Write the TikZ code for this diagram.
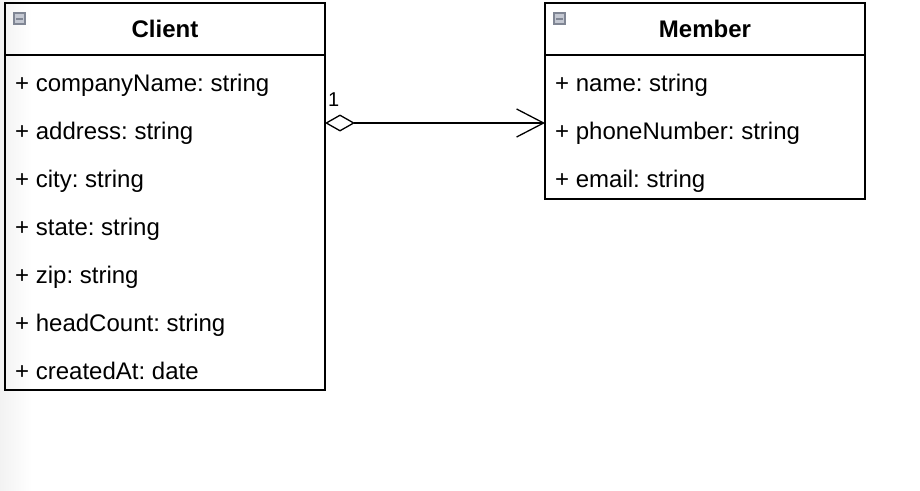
\documentclass[tikz,border=0pt]{standalone}
\usepackage{fontspec}
\setmainfont{Liberation Sans}
\usetikzlibrary{positioning,arrows.meta}
\frenchspacing

\definecolor{iconfill}{RGB}{196,200,210}
\definecolor{iconedge}{RGB}{128,134,148}

\tikzset{
  classhead/.style={draw,line width=1.5pt,outer sep=0pt,inner sep=0pt,minimum width=320pt,minimum height=52pt,font=\fontsize{24}{28}\selectfont\bfseries},
  classbody/.style={draw,line width=1.5pt,outer sep=0pt,inner sep=0pt,minimum width=320pt},
  attr/.style={anchor=base west,inner sep=0pt,font=\fontsize{24}{28}\selectfont},
  togglebox/.style={draw=iconedge,fill=iconfill,line width=1.2pt,minimum size=11pt,inner sep=0pt,outer sep=0pt,anchor=north west,
    path picture={\draw[line width=2pt] ([xshift=2pt]path picture bounding box.west) -- ([xshift=-2pt]path picture bounding box.east);}},
  assoc/.style={line width=1.3pt,arrows={Diamond[open,length=30pt,width=17pt]-Straight Barb[length=27pt,width=28pt]}},
  mult/.style={anchor=base west,inner sep=0pt,font=\fontsize{20}{23}\selectfont}
}

\begin{document}
\begin{tikzpicture}[x=1pt,y=-1pt]
\useasboundingbox (0,0) rectangle (920,490);
\shade[left color=gray!10,right color=white] (0,0) rectangle (32,490);

% Client class
\node[classhead] (client) at (165,29) {Client};
\node[classbody,minimum height=335pt,below=0pt of client] (clientbody) {};
\node[togglebox] (client-toggle) at ([xshift=9pt,yshift=-10pt]client.north west) {};
\foreach \a [count=\i] in {companyName: string,address: string,city: string,state: string,zip: string,headCount: string,createdAt: date}
  \node[attr] (client-\i) at (15,{91+48*(\i-1)}) {+ \a};

% Member class
\node[classhead] (member) at (705,29) {Member};
\node[classbody,minimum height=144pt,below=0pt of member] (memberbody) {};
\node[togglebox] (member-toggle) at ([xshift=9pt,yshift=-10pt]member.north west) {};
\foreach \a [count=\i] in {name: string,phoneNumber: string,email: string}
  \node[attr] (member-\i) at (555,{91+48*(\i-1)}) {+ \a};

% aggregation
\coordinate (memberin) at ([yshift=4pt]memberbody.west);
\draw[assoc] (clientbody.east |- memberin) -- (memberin);
\node[mult] (client-mult) at ([xshift=3pt,yshift=17pt]clientbody.east |- memberin) {1};
\end{tikzpicture}
\end{document}
